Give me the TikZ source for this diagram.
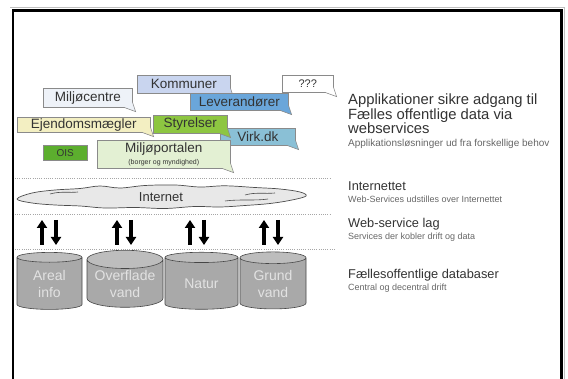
\documentclass[tikz,border=0pt]{standalone}
\usepackage{fontspec}
\setmainfont{Liberation Sans}
\usetikzlibrary{shapes.geometric,arrows.meta,calc}
\definecolor{bordergray}{HTML}{8A8A8A}
\definecolor{txtgray}{HTML}{333333}
\definecolor{cMiljo}{HTML}{EEF2F8}
\definecolor{cKomm}{HTML}{C9D5EF}
\definecolor{cLev}{HTML}{6AA6DA}
\definecolor{cEjd}{HTML}{F3EFC2}
\definecolor{cSty}{HTML}{8DC641}
\definecolor{cVirk}{HTML}{8AC0D6}
\definecolor{cOIS}{HTML}{5CAE2E}
\definecolor{cPort}{HTML}{E3F0D3}
\definecolor{cylbody}{HTML}{A9A9A9}
\definecolor{cyltop}{HTML}{BDBDBD}
\definecolor{cyltext}{HTML}{E2E2E2}
\newcommand{\calltail}[2]{%
  \fill[#2] ($(#1.south east)+(-8pt,0)$) -- ($(#1.south east)+(3pt,-4pt)$) -- ($(#1.south east)+(0,5pt)$) -- cycle;
  \draw[bordergray,line width=0.6pt] ($(#1.south east)+(-8pt,0)$) -- ($(#1.south east)+(3pt,-4pt)$) -- ($(#1.south east)+(0,5pt)$);}
\begin{document}
\begin{tikzpicture}[x=1pt,y=-1pt,
  bubble/.style={draw=bordergray,line width=0.6pt,anchor=north west,inner sep=0pt,
    font=\fontsize{13.5}{14}\selectfont,text=txtgray,align=center},
  dotline/.style={gray!70,line width=0.9pt,dash pattern=on 1pt off 1.2pt},
  bigarrow/.style={line width=3.6pt,-{Triangle[width=10pt,length=8pt]}},
  db/.style={cylinder,shape border rotate=90,aspect=0.3,draw=gray!55!black,line width=0.6pt,
    cylinder uses custom fill,cylinder body fill=cylbody,cylinder end fill=cyltop,
    minimum height=57pt,inner sep=0pt,text=cyltext,align=center,font=\fontsize{14}{17}\selectfont},
  headtxt/.style={anchor=base west,inner sep=0pt,text=txtgray,font=\fontsize{12.8}{14}\selectfont},
  titletxt/.style={anchor=base west,inner sep=0pt,text=txtgray,font=\fontsize{14.8}{16}\selectfont},
  subtxt/.style={anchor=base west,inner sep=0pt,text=gray!80!black,font=\fontsize{9}{10}\selectfont}]
\useasboundingbox (0,0) rectangle (568,379);
% frame
\draw[gray!50,line width=1.2pt] (10,7.5) -- (564.5,7.5) -- (564.5,379);
\draw[black,line width=2.6pt] (13,379) -- (13,10.8) -- (561.3,10.8) -- (561.3,379);
% callouts
\node[bubble,fill=cMiljo,minimum width=89pt,minimum height=19pt] (miljo) at (43,88) {Miljøcentre};
\calltail{miljo}{cMiljo}
\node[bubble,fill=cKomm,minimum width=93pt,minimum height=18pt] (komm) at (137,75) {Kommuner};
\calltail{komm}{cKomm}
\node[bubble,fill=white,minimum width=51pt,minimum height=17pt,font=\fontsize{11}{12}\selectfont] (qqq) at (282,75) {???};
\calltail{qqq}{white}
\node[bubble,fill=cLev,minimum width=98pt,minimum height=17pt] (lev) at (190,93) {Leverandører};
\calltail{lev}{cLev}
\node[bubble,fill=cVirk,minimum width=75pt,minimum height=17pt] (virk) at (220,128) {Virk.dk};
\calltail{virk}{cVirk}
\node[bubble,fill=cEjd,minimum width=133pt,minimum height=15pt] (ejd) at (17,117) {Ejendomsmægler};
\calltail{ejd}{cEjd}
\node[bubble,fill=cSty,minimum width=74pt,minimum height=18pt] (sty) at (153,115) {Styrelser};
\calltail{sty}{cSty}
\node[bubble,fill=cOIS,minimum width=44pt,minimum height=15pt,font=\fontsize{10}{11}\selectfont] (ois) at (43,145) {OIS};
\node[bubble,fill=cPort,minimum width=133pt,minimum height=28pt] (port) at (97,140) {Miljøportalen\\[-2pt]{\fontsize{7}{8}\selectfont (borger og myndighed)}};
\calltail{port}{cPort}
% dotted separators
\coordinate (d1a) at (15,178); \coordinate (d1b) at (330,178);
\coordinate (d2a) at (15,214); \coordinate (d2b) at (330,214);
\coordinate (d3a) at (15,249); \coordinate (d3b) at (335,249);
\draw[dotline] (d1a) -- (d1b);
\draw[dotline] (d2a) -- (d2b);
\draw[dotline] (d3a) -- (d3b);
% cloud
\filldraw[fill=gray!18,draw=gray!60!black,line width=0.7pt]
  plot[smooth cycle,tension=0.6] coordinates {(17,199) (32,193) (55,190) (80,188.5) (100,186) (120,188) (145,185.5) (175,185) (200,187) (225,185.8) (255,187.5) (280,189) (300,192) (306,196) (292,200) (270,203.5) (245,205.5) (220,207) (195,206.5) (165,208.5) (135,207.5) (105,208) (80,206) (55,205) (32,203)};
\draw[gray!60!black,line width=0.6pt] (50,194) .. controls (60,191) and (70,193) .. (78,192);
\draw[gray!60!black,line width=0.6pt] (245,195) .. controls (255,192) and (265,194) .. (275,193);
\draw[gray!60!black,line width=0.6pt] (225,201) .. controls (240,199) and (255,201) .. (268,199);
\node[inner sep=0pt,text=txtgray,font=\fontsize{13}{14}\selectfont] (inet) at (161,197) {Internet};
% databases
\node[db,minimum width=65pt] (db1) at (49.5,283.5) {Areal\\info};
\node[db,minimum width=76pt] (db2) at (125,283.5) {Overflade\\vand};
\node[db,minimum width=73pt] (db3) at (201.5,283.5) {Natur};
\node[db,minimum width=66pt] (db4) at (273,283.5) {Grund\\vand};
% arrows
\foreach \i/\x in {1/42,2/117,3/190,4/264}{
  \coordinate (up\i a) at (\x,245); \coordinate (up\i b) at (\x,220);
  \coordinate (dn\i a) at (\x+14,220); \coordinate (dn\i b) at (\x+14,245);
  \draw[bigarrow] (up\i a) -- (up\i b);
  \draw[bigarrow] (dn\i a) -- (dn\i b);
}
% right column
\node[titletxt] (h1) at (348,105) {Applikationer sikre adgang til};
\node[titletxt] (h1b) at (348,119.5) {Fælles offentlige data via};
\node[titletxt] (h1c) at (348,134) {webservices};
\node[subtxt,font=\fontsize{10}{11}\selectfont] (s1) at (348,147) {Applikationsløsninger ud fra forskellige behov};
\node[headtxt] (h2) at (348,191) {Internettet};
\node[subtxt] (s2) at (348,203) {Web-Services udstilles over Internettet};
\node[headtxt] (h3) at (348,228) {Web-service lag};
\node[subtxt] (s3) at (348,240) {Services der kobler drift og data};
\node[headtxt] (h4) at (348,279) {Fællesoffentlige databaser};
\node[subtxt] (s4) at (348,291) {Central og decentral drift};
\end{tikzpicture}
\end{document}
